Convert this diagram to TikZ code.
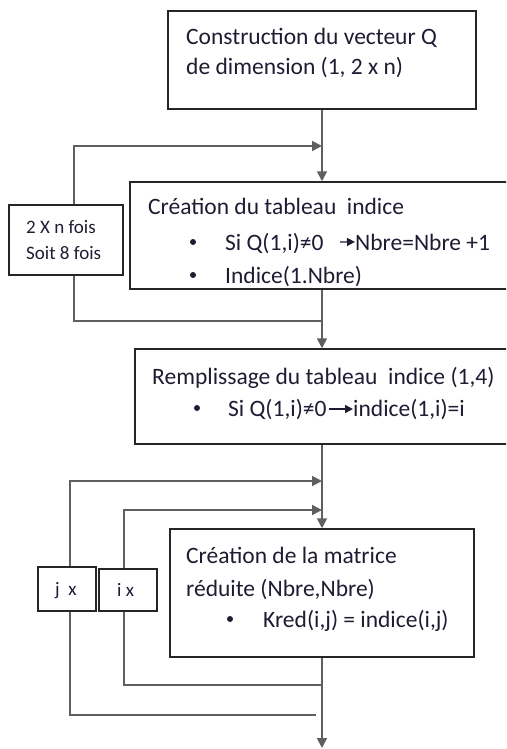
\documentclass[tikz,border=0pt]{standalone}
\usepackage{fontspec}
\setmainfont{Carlito}
\usetikzlibrary{arrows.meta,positioning}
\definecolor{lnc}{RGB}{95,95,95}
\definecolor{txc}{RGB}{30,28,50}

\begin{document}
\begin{tikzpicture}[x=1pt,y=-1pt,
 box/.style={draw=black!85,line width=1.5pt,inner sep=0},
 txt/.style={anchor=base west,inner sep=0,text=txc,font=\fontsize{23.5}{28}\selectfont},
 lbl/.style={txt,font=\fontsize{19}{23}\selectfont},
 flow/.style={draw=lnc,line width=1.8pt},
 arr/.style={flow,-{Triangle[length=10pt,width=10pt]}},
 tip/.style={draw=txc,line width=1.4pt,-{Triangle[length=8pt,width=8pt]}}]
\useasboundingbox (0,0) rectangle (506,749);
\clip (0,0) rectangle (506,749);
% boxes
\node[box,minimum width=308pt,minimum height=98pt] (b1) at (322,60) {};
\node[box,minimum width=390pt,minimum height=107pt] (b2) at (325,235.5) {};
\node[box,minimum width=385pt,minimum height=95pt] (b3) at (327.5,396.5) {};
\node[box,minimum width=304pt,minimum height=128pt] (b4) at (322,593) {};
\node[box,minimum width=114pt,minimum height=70pt] (n8) at (66,240) {};
\node[box,minimum width=58pt,minimum height=44pt] (jx) at (67,589) {};
\node[box,minimum width=58pt,minimum height=42pt] (ix) at (128,590) {};
% texts
\node[txt] (t11) at (186,45) {Construction du vecteur Q};
\node[txt] (t12) at (186,75) {de dimension (1, 2 x n)};
\node[txt] (t21) at (148,214) {Création du tableau~ indice};
\node[txt] (si1) at (225,250) {Si Q(1,i)≠0};
\node[txt] (nb1) at (355,250) {Nbre=Nbre +1};
\node[txt] (t23) at (225,283) {Indice(1.Nbre)};
\node[txt] (t31) at (152,384) {Remplissage du tableau~ indice (1,4)};
\node[txt] (si2) at (228,416) {Si Q(1,i)≠0};
\node[txt] (ind) at (353,416) {indice(1,i)=i};
\node[txt] (t41) at (186,563) {Création de la matrice};
\node[txt] (t42) at (186,596) {réduite (Nbre,Nbre)};
\node[txt] (t43) at (263,627) {Kred(i,j) = indice(i,j)};
\node[lbl] (l1) at (26,233) {2 X n fois};
\node[lbl] (l2) at (26,259) {Soit 8 fois};
\node[lbl] (lj) at (55,595) {j~ x};
\node[lbl] (li) at (117,596) {i x};
\foreach \p in {(193,242),(193,275),(197,408),(230,619)}
 \fill[txc] \p circle (3);
\draw[tip] (340,242) -- (nb1.west);
\draw[tip,shorten <=2pt] (si2.east) -- (ind.west);
% spine
\coordinate (m1) at (322,146);
\coordinate (m2) at (322,321);
\coordinate (m3) at (322,481);
\coordinate (m4) at (322,510);
\coordinate (m5) at (322,685);
\coordinate (m6) at (316,715);
\coordinate (end) at (322,748);
\draw[arr] (b1.south) -- (b1.south |- b2.north);
\draw[arr] (m2 |- b2.south) -- (m2 |- b3.north);
\draw[arr] (m3 |- b3.south) -- (m3 |- b4.north);
\draw[arr] (b4.south) -- (end);
% loops
\draw[arr] (74,0 |- n8.north) -- (74,146) -- (m1);
\draw[flow] (74,0 |- n8.south) -- (74,321) -- (m2);
\draw[arr] (70,0 |- jx.north) -- (70,481) -- (m3);
\draw[flow] (70,0 |- jx.south) -- (70,715) -- (m6);
\draw[arr] (124,0 |- ix.north) -- (124,510) -- (m4);
\draw[flow] (124,0 |- ix.south) -- (124,685) -- (m5);
\end{tikzpicture}
\end{document}
